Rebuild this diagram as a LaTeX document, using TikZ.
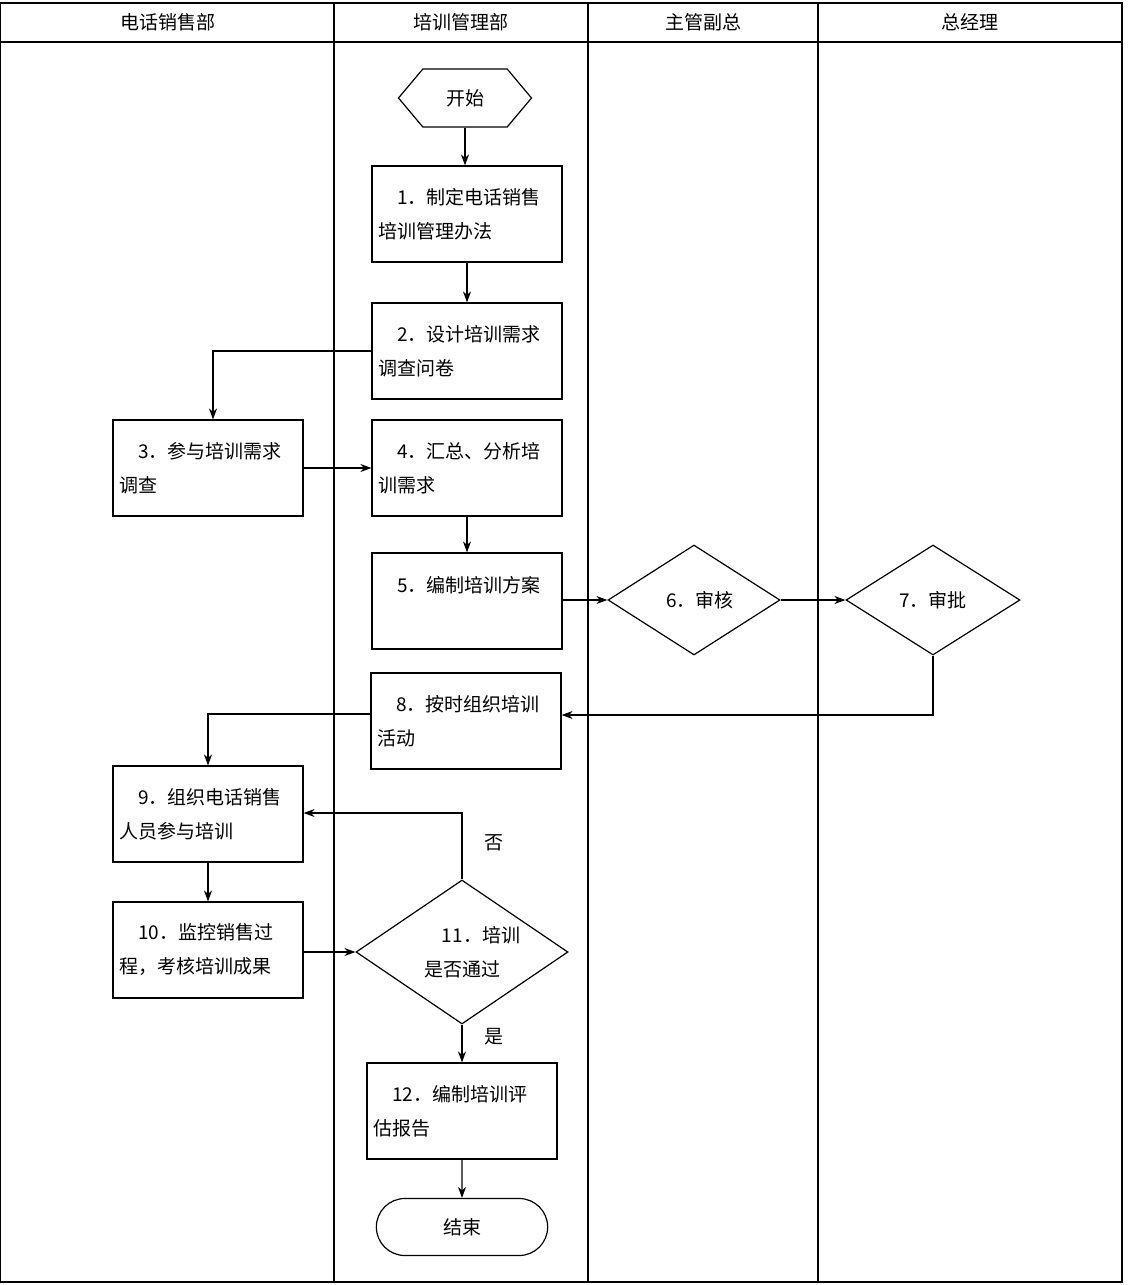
\documentclass[tikz,border=0pt]{standalone}
\usepackage{fontspec}
\setmainfont{Noto Sans CJK SC}
\usetikzlibrary{shapes.geometric,shapes.symbols,shapes.misc,arrows.meta}
\begin{document}
\begin{tikzpicture}[x=1pt,y=-1pt,
  box/.style={draw,line width=1.2pt,minimum width=190pt,minimum height=96pt,inner xsep=6pt,text width=178pt,align=left,font=\fontsize{19pt}{34pt}\selectfont},
  dia/.style={draw,line width=1.2pt,diamond,inner sep=0pt},
  lab/.style={font=\fontsize{19pt}{34pt}\selectfont},
  arr/.style={line width=1.2pt,-{Stealth[length=11pt,width=8pt]}}]
\useasboundingbox (0,0) rectangle (1133,1285);
\draw[line width=1.2pt] (0.6,3) rectangle (1122,1282);
\draw[line width=1.2pt] (0.6,42) -- (1122,42);
\foreach \x in {334,588,818}{\draw[line width=1.2pt] (\x,3) -- (\x,1282);}
\node[lab] (h1) at (168,22) {电话销售部};
\node[lab] (h2) at (461,22) {培训管理部};
\node[lab] (h3) at (703,22) {主管副总};
\node[lab] (h4) at (970,22) {总经理};

\node[draw,line width=1.2pt,signal,signal to=east and west,signal pointer angle=100,minimum width=133pt,minimum height=58pt,inner sep=0pt,lab] (s) at (465,98) {开始};
\node[box] (b1) at (467,214) {\hspace*{1em}1．制定电话销售\\培训管理办法};
\node[box] (b2) at (467,351) {\hspace*{1em}2．设计培训需求\\调查问卷};
\node[box] (b3) at (208,468) {\hspace*{1em}3．参与培训需求\\调查};
\node[box] (b4) at (467,468) {\hspace*{1em}4．汇总、分析培\\训需求};
\node[box] (b5) at (467,601) {\hspace*{1em}5．编制培训方案\\\mbox{}};
\node[dia,minimum width=172pt,minimum height=110pt] (d6) at (694,600) {};
\node[lab] (t6) at (700,600) {6．审核};
\node[dia,minimum width=174pt,minimum height=110pt] (d7) at (933,600) {};
\node[lab] (t7) at (933,600) {7．审批};
\node[box] (b8) at (466,721) {\hspace*{1em}8．按时组织培训\\活动};
\node[box] (b9) at (208,814) {\hspace*{1em}9．组织电话销售\\人员参与培训};
\node[box] (b10) at (208,950) {\hspace*{1em}10．监控销售过\\程，考核培训成果};
\node[dia,minimum width=212pt,minimum height=144pt] (d11) at (462,952) {};
\node[lab,align=center] (t11) at (462,952) {\hspace*{2em}11．培训\\是否通过};
\node[box] (b12) at (462,1111) {\hspace*{1em}12．编制培训评\\估报告};
\node[draw,line width=1.2pt,rounded rectangle,minimum width=178pt,minimum height=57pt,lab] (e) at (462,1227) {结束};

\coordinate (c2) at (213,351);
\coordinate (c7) at (933,715);
\coordinate (c8) at (208,714);
\coordinate (c11) at (462,813);
\draw[arr] (s.south) -- (s.south |- b1.north);
\draw[arr] (b1) -- (b2);
\draw[arr] (b2.west |- c2) -- (c2) -- (c2 |- b3.north);
\draw[arr] (b3) -- (b4);
\draw[arr] (b4) -- (b5);
\draw[arr] (b5.east |- d6) -- (d6.west);
\draw[arr] (d6) -- (d7);
\draw[arr] (d7.south) -- (c7) -- (b8.east |- c7);
\draw[arr] (b8.west |- c8) -- (c8) -- (b9.north);
\draw[arr] (b9) -- (b10);
\draw[arr] (b10.east |- d11) -- (d11.west);
\draw[arr] (d11.north) -- (c11) -- (b9.east |- c11);
\draw[arr] (d11.south) -- (b12.north);
\draw[arr] (b12) -- (e);
\node[lab] (no) at (494,843) {否};
\node[lab] (yes) at (494,1037) {是};
\end{tikzpicture}
\end{document}
